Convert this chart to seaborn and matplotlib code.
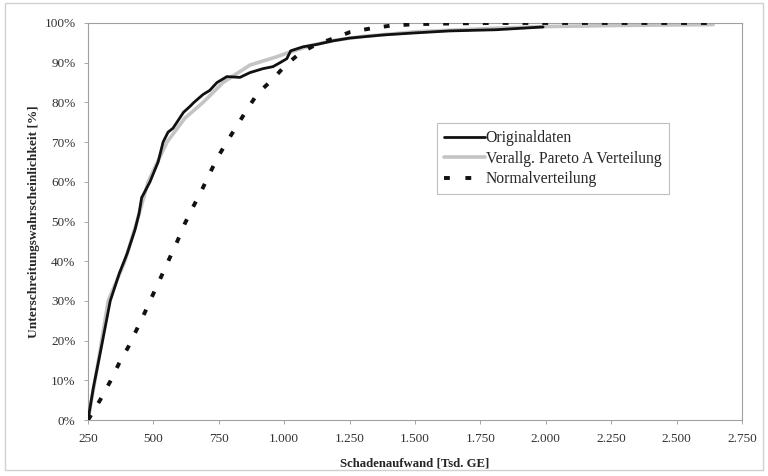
import matplotlib
matplotlib.use("Agg")
import matplotlib.pyplot as plt
import seaborn as sns
import pandas as pd
from matplotlib.patches import Rectangle
from matplotlib.lines import Line2D

# Werte (Schadenaufwand in Tsd. GE, Wahrscheinlichkeit in %)
orig_x = [250, 270, 300, 335, 370, 400, 430, 445, 455, 487, 518, 537, 556, 575, 590,
          615, 640, 655, 690, 715, 743, 781, 831, 869, 919, 957, 984, 1010, 1025,
          1072, 1125, 1187, 1250, 1380, 1500, 1630, 1810, 1990]
orig_y = [0, 8, 18, 30, 37, 42, 48, 52, 56, 60, 65, 70, 72.5, 73.5, 75,
          77.5, 79, 80, 82, 83, 85, 86.5, 86.3, 87.5, 88.5, 89, 90, 91, 93,
          94, 94.6, 95.5, 96.2, 97, 97.5, 98, 98.3, 99]

pareto_x = [250, 290, 327, 391, 437, 480, 552, 620, 690, 766, 869, 972, 1010,
            1100, 1187, 1300, 1507, 1813, 2000, 2300, 2640]
pareto_y = [0, 15, 30, 40, 50, 60, 70, 76, 80, 85, 89.4, 91.5, 92.4,
            94.3, 95.6, 96.6, 97.8, 98.7, 99.1, 99.4, 99.6]

normal_x = [250, 296, 334, 369, 404, 437, 468, 499, 529, 560, 590, 621, 652, 685,
            716, 747, 785, 823, 861, 899, 953, 1003, 1060, 1120, 1187, 1252, 1328,
            1404, 1500, 1650, 1800, 2000, 2300, 2640]
normal_y = [0, 5, 9.6, 14.3, 18.4, 22.9, 27.2, 31.7, 36, 40.5, 44.8, 49.6, 53.7, 57.9,
            62.2, 66.3, 70.5, 74.5, 78.5, 82.3, 85.6, 89.2, 92.4, 94.5, 96.1, 97.7, 98.6,
            99.3, 99.7, 99.9, 100, 100, 100, 100]

x_ticks = [250, 500, 750, 1000, 1250, 1500, 1750, 2000, 2250, 2500, 2750]
x_tick_labels = ["250", "500", "750", "1.000", "1.250", "1.500", "1.750",
                 "2.000", "2.250", "2.500", "2.750"]
y_ticks = [0, 10, 20, 30, 40, 50, 60, 70, 80, 90, 100]
y_tick_labels = [f"{v}%" for v in y_ticks]

sns.set_style("white")
plt.rcParams["font.family"] = ["Liberation Serif", "DejaVu Serif"]

fig = plt.figure(figsize=(7.68, 4.76), dpi=100)
ax = fig.add_axes([0.1146, 0.1176, 0.8514, 0.8341])

df_orig = pd.DataFrame({"x": orig_x, "y": orig_y})
df_par = pd.DataFrame({"x": pareto_x, "y": pareto_y})
df_norm = pd.DataFrame({"x": normal_x, "y": normal_y})

sns.lineplot(data=df_par, x="x", y="y", ax=ax, color="#c4c4c4", linewidth=2.6,
             sort=False, zorder=2)
sns.lineplot(data=df_orig, x="x", y="y", ax=ax, color="#111111", linewidth=2.0,
             sort=False, zorder=3)
sns.lineplot(data=df_norm, x="x", y="y", ax=ax, color="#111111", linewidth=2.8,
             sort=False, zorder=4)
ax.lines[-1].set_dashes((1.5, 3.6))

ax.set_xlim(250, 2750)
ax.set_ylim(0, 100)
ax.set_xticks(x_ticks)
ax.set_xticklabels(x_tick_labels)
ax.set_yticks(y_ticks)
ax.set_yticklabels(y_tick_labels)
ax.tick_params(axis="both", labelsize=9.5, colors="#999999", length=3, width=0.6,
               direction="out", pad=6, bottom=True, left=True)
for lbl in ax.get_xticklabels() + ax.get_yticklabels():
    lbl.set_color("#333333")

for side in ["left", "bottom", "right", "top"]:
    ax.spines[side].set_visible(True)
    ax.spines[side].set_color("#a0a0a0")
    ax.spines[side].set_linewidth(0.8)

ax.set_xlabel("Schadenaufwand [Tsd. GE]", fontsize=9.2, fontweight="bold", labelpad=9)
ax.set_ylabel("Unterschreitungswahrscheinlichkeit [%]", fontsize=9.6,
              fontweight="bold", labelpad=3)

# Legende mit eigenen Symbolen (Strichmuster endet mit Luecke vor dem Text)
legend_handles = [
    Line2D([], [], color="#111111", linewidth=2.0),
    Line2D([], [], color="#c4c4c4", linewidth=2.6),
    Line2D([], [], color="#111111", linewidth=2.8, dashes=(1.5, 4.0)),
]
legend_labels = ["Originaldaten", "Verallg. Pareto A Verteilung", "Normalverteilung"]
leg = ax.legend(legend_handles, legend_labels,
                loc="upper left", bbox_to_anchor=(0.522, 0.768), fontsize=11.3,
                frameon=True, fancybox=False, handlelength=2.6, handletextpad=0.05,
                borderpad=0.45, labelspacing=0.3)
leg.get_frame().set_edgecolor("#b0b0b0")
leg.get_frame().set_linewidth(0.8)

# Rahmen um die ganze Grafik
fig.patches.append(Rectangle((0.007, 0.012), 0.986, 0.982, transform=fig.transFigure,
                             fill=False, edgecolor="#d0d0d0", linewidth=1.0))

fig.savefig("out.png", dpi=100)
